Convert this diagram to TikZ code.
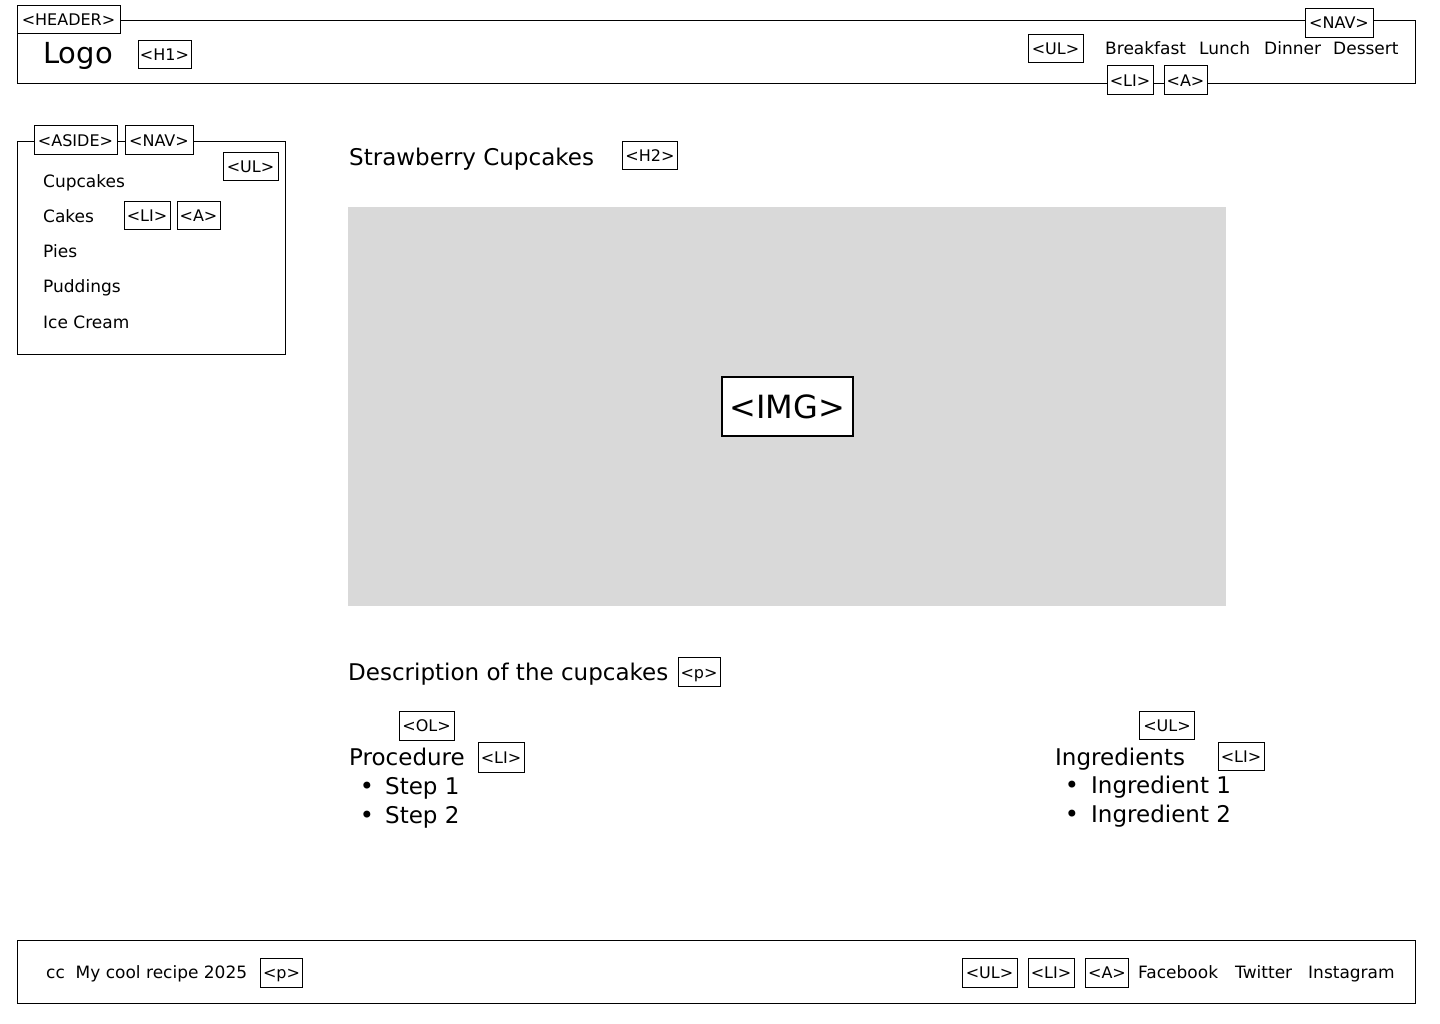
\documentclass[tikz,border=0pt]{standalone}
\usepackage{fontspec}
\setmainfont{DejaVu Sans}
\definecolor{imggray}{HTML}{D9D9D9}
\begin{document}
\begin{tikzpicture}[x=1pt,y=-1pt,
  frame/.style={draw=black,line width=1.2pt,inner sep=0pt,anchor=north west},
  tag/.style={draw=black,fill=white,line width=1pt,inner sep=0pt,minimum height=28pt,
    text height=12pt,text depth=0pt,font=\fontsize{16}{16}\selectfont},
  menu/.style={anchor=base west,inner sep=0pt,font=\fontsize{17}{17}\selectfont},
  big/.style={anchor=base west,inner sep=0pt,font=\fontsize{23}{23}\selectfont},
  bul/.style={anchor=base,inner sep=0pt,font=\fontsize{24}{24}\selectfont},
]
\useasboundingbox (0,0) rectangle (1440,1024);
\fill[white] (0,0) rectangle (1440,1024);

% ---------- header ----------
\node[frame,minimum width=1398pt,minimum height=63pt] (header) at (17,20) {};
\node[tag,minimum width=103pt] (headertag) at (68.5,20) {<HEADER>};
\node[anchor=base west,inner sep=0pt,font=\fontsize{29}{29}\selectfont] (logo) at (43,63.5) {Logo};
\node[tag,minimum width=53pt] (h1tag) at (164.5,55) {<H1>};
\node[tag,minimum width=55pt] (hultag) at (1055.5,48.5) {<UL>};
\node[menu] (mbreak) at (1105,55) {Breakfast};
\node[menu] (mlunch) at (1199,55) {Lunch};
\node[menu] (mdinner) at (1264,55) {Dinner};
\node[menu] (mdessert) at (1333,55) {Dessert};
\node[tag,minimum width=68pt,minimum height=29pt] (hnavtag) at (1339,23) {<NAV>};
\node[tag,minimum width=46pt,minimum height=29pt] (hlitag) at (1130,80.5) {<LI>};
\node[tag,minimum width=43pt,minimum height=29pt] (hatag) at (1185.5,80.5) {<A>};

% ---------- aside ----------
\node[frame,minimum width=268pt,minimum height=213pt] (aside) at (17,141) {};
\node[tag,minimum width=83pt,minimum height=29pt] (asidetag) at (75.5,140.5) {<ASIDE>};
\node[tag,minimum width=68pt,minimum height=29pt] (anavtag) at (159,140.5) {<NAV>};
\node[tag,minimum width=55pt] (aultag) at (250.5,167) {<UL>};
\node[menu] (scup) at (43,188) {Cupcakes};
\node[menu] (scake) at (43,223) {Cakes};
\node[menu] (spie) at (43,258) {Pies};
\node[menu] (spud) at (43,293) {Puddings};
\node[menu] (sice) at (43,328) {Ice Cream};
\node[tag,minimum width=46pt] (alitag) at (147,216) {<LI>};
\node[tag,minimum width=43pt] (aatag) at (198.5,216) {<A>};

% ---------- main content ----------
\node[big] (title) at (349,165.5) {Strawberry Cupcakes};
\node[tag,minimum width=55pt] (h2tag) at (650,156) {<H2>};
\node[fill=imggray,inner sep=0pt,anchor=north west,minimum width=878pt,minimum height=399pt] (img) at (348,207) {};
\node[draw=black,fill=white,line width=2pt,inner sep=0pt,minimum width=131pt,minimum height=59pt,
  font=\fontsize{32}{32}\selectfont] (imgtag) at (img.center) {<IMG>};

\node[big] (desc) at (348,680.5) {Description of the cupcakes};
\node[tag,minimum width=42pt,minimum height=29pt] (ptag) at (699,672) {<p>};

\node[tag,minimum width=55pt,minimum height=29pt] (oltag) at (426.5,725.5) {<OL>};
\node[big] (proc) at (349,765.5) {Procedure};
\node[tag,minimum width=46pt,minimum height=30pt] (plitag) at (501,757) {<LI>};
\node[bul] (pb1) at (367,794) {•};
\node[big] (step1) at (385,794) {Step 1};
\node[bul] (pb2) at (367,823) {•};
\node[big] (step2) at (385,823) {Step 2};

\node[tag,minimum width=55pt] (iultag) at (1167,725) {<UL>};
\node[big] (ingr) at (1055,765) {Ingredients};
\node[tag,minimum width=46pt] (ilitag) at (1241,756) {<LI>};
\node[bul] (ib1) at (1072,793) {•};
\node[big] (ing1) at (1091,793) {Ingredient 1};
\node[bul] (ib2) at (1072,822) {•};
\node[big] (ing2) at (1091,822) {Ingredient 2};

% ---------- footer ----------
\node[frame,minimum width=1398pt,minimum height=63pt] (footer) at (17,940) {};
\node[menu] (copy) at (46,978.5) {cc\ \ My cool recipe 2025};
\node[tag,minimum width=42pt,minimum height=29pt] (fptag) at (281.5,972.5) {<p>};
\node[tag,minimum width=55pt,minimum height=29pt] (fultag) at (989.5,972.5) {<UL>};
\node[tag,minimum width=46pt,minimum height=29pt] (flitag) at (1051,972.5) {<LI>};
\node[tag,minimum width=43pt,minimum height=29pt] (fatag) at (1107,972.5) {<A>};
\node[menu] (fb) at (1138,978.5) {Facebook};
\node[menu] (tw) at (1235,978.5) {Twitter};
\node[menu] (ig) at (1308,978.5) {Instagram};
\end{tikzpicture}
\end{document}
